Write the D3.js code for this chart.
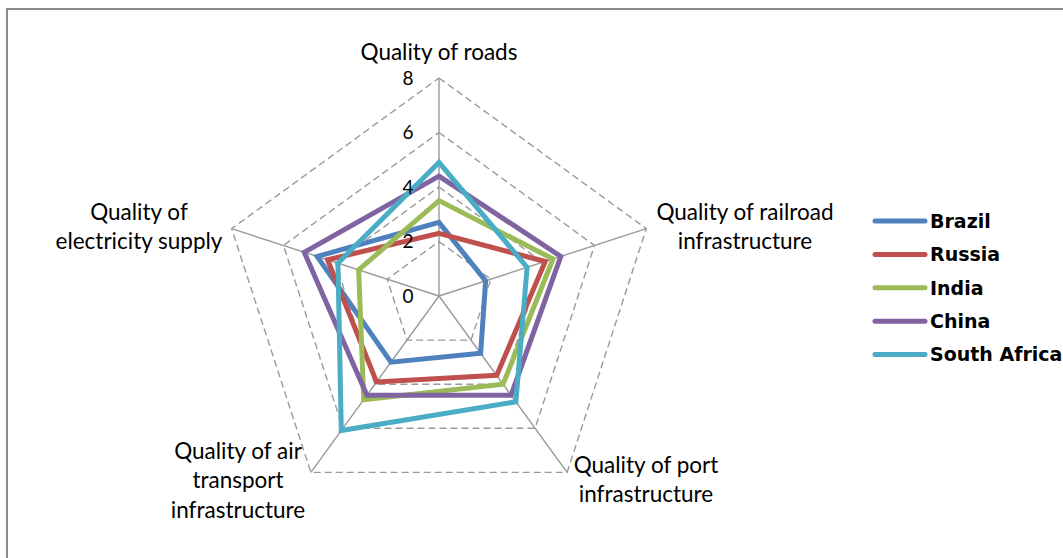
<!DOCTYPE html>
<html>
<head>
<meta charset="utf-8">
<script src="https://cdn.jsdelivr.net/npm/d3@7"></script>
<style>
  html, body { margin: 0; padding: 0; background: #fff; overflow: hidden; }
  svg { display: block; }
</style>
</head>
<body>
<svg id="chart"></svg>
<script>
// axis labels, clockwise from the top
const axes = [
    ["Quality of roads"],
    ["Quality of railroad", "infrastructure"],
    ["Quality of port", "infrastructure"],
    ["Quality of air", "transport", "infrastructure"],
    ["Quality of", "electricity supply"]
];
const ticks = [0, 2, 4, 6, 8];

const countries = ["Brazil", "Russia", "India", "China", "South Africa"];
const colors = ["#4f81bd", "#c0504d", "#9bbb59", "#8064a2", "#4bacc6"];

const brazil = [2.7, 1.8, 2.6, 3.0, 4.7];
const russia = [2.3, 4.1, 3.6, 3.9, 4.3];
const india = [3.5, 4.4, 4.0, 4.7, 3.1];
const china = [4.4, 4.7, 4.5, 4.5, 5.2];
const southAfrica = [4.9, 3.4, 4.8, 6.1, 3.9];

const series = [brazil, russia, india, china, southAfrica];

const width = 1063, height = 558;
const cx = 439, cy = 296;

const svg = d3.select("#chart")
    .attr("width", width)
    .attr("height", height);

// chart frame (only top/left edges visible in the crop)
svg.append("path")
    .attr("d", `M7,${height} V9 H${width}`)
    .attr("fill", "none")
    .attr("stroke", "#8c8c8c")
    .attr("stroke-width", 2);

const r = d3.scaleLinear().domain([0, 8]).range([0, 218]);
const angle = d3.scaleLinear().domain([0, axes.length]).range([0, 2 * Math.PI]);

const g = svg.append("g").attr("transform", `translate(${cx},${cy})`);

const pt = (i, v) => [Math.sin(angle(i)) * r(v), -Math.cos(angle(i)) * r(v)];

// dashed grid rings
g.append("g")
    .selectAll("path")
    .data(ticks.filter(t => t > 0))
    .join("path")
    .attr("d", t => d3.line()(axes.map((a, i) => pt(i, t))) + "Z")
    .attr("fill", "none")
    .attr("stroke", "#9a9a9a")
    .attr("stroke-width", 1.4)
    .attr("stroke-dasharray", "7,4");

// spokes
g.append("g")
    .selectAll("line")
    .data(axes)
    .join("line")
    .attr("x1", 0).attr("y1", 0)
    .attr("x2", (a, i) => pt(i, 8)[0])
    .attr("y2", (a, i) => pt(i, 8)[1])
    .attr("stroke", "#9a9a9a")
    .attr("stroke-width", 1.4);

// series
const radial = d3.lineRadial()
    .angle((d, i) => angle(i))
    .radius(d => r(d))
    .curve(d3.curveLinearClosed);

g.append("g")
    .selectAll("path")
    .data(series)
    .join("path")
    .attr("d", radial)
    .attr("fill", "none")
    .attr("stroke", (d, i) => colors[i])
    .attr("stroke-width", 5)
    .attr("stroke-linejoin", "miter");

// tick labels
g.append("g")
    .selectAll("text")
    .data(ticks)
    .join("text")
    .attr("x", -31)
    .attr("y", t => -r(t))
    .attr("dy", "0.35em")
    .attr("text-anchor", "middle")
    .style("font-family", "Lato, 'Open Sans', sans-serif")
    .style("font-size", "19px")
    .attr("fill", "#000")
    .text(t => t);

// axis labels
const labelPos = [[439, 52], [745, 212], [646, 465], [238, 451], [139, 212]];
svg.append("g")
    .selectAll("text")
    .data(axes)
    .join("text")
    .attr("text-anchor", "middle")
    .style("font-family", "Lato, 'Open Sans', sans-serif")
    .style("font-size", "22.5px")
    .attr("fill", "#000")
    .each(function(lines, i) {
        const t = d3.select(this);
        lines.forEach((s, k) => {
            t.append("tspan")
                .attr("x", labelPos[i][0])
                .attr("y", labelPos[i][1] + k * 29.5)
                .attr("dy", "0.35em")
                .text(s);
        });
    });

// legend
const legend = svg.append("g")
    .selectAll("g")
    .data(countries)
    .join("g")
    .attr("transform", (d, i) => `translate(875,${221 + i * 33.4})`);

legend.append("line")
    .attr("x1", 0).attr("x2", 50)
    .attr("stroke", (d, i) => colors[i])
    .attr("stroke-width", 5)
    .attr("stroke-linecap", "round");

legend.append("text")
    .attr("x", 55)
    .attr("dy", "0.36em")
    .style("font-family", "'DejaVu Sans', Verdana, sans-serif")
    .style("font-weight", "bold")
    .style("font-size", "19px")
    .attr("fill", "#000")
    .text(d => d);
</script>
</body>
</html>
